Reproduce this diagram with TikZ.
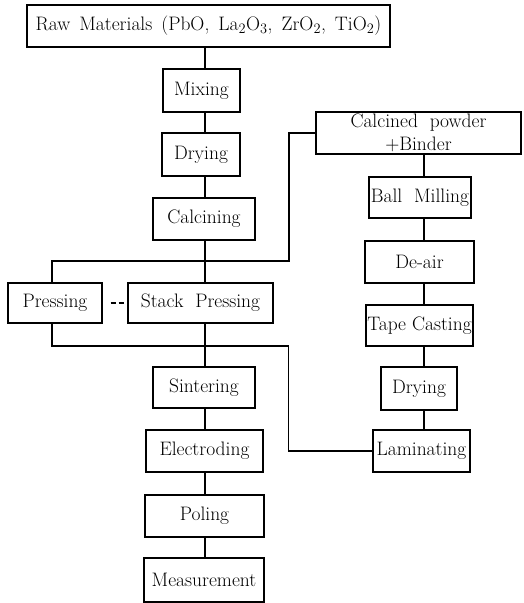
\documentclass[tikz,border=0pt]{standalone}
\usepackage{fontspec}
\begin{document}
\begin{tikzpicture}[x=1pt,y=-1pt,
  box/.style={draw, line width=1.2pt, inner sep=0pt, align=center,
    font=\fontsize{19.5}{23}\selectfont},
  conn/.style={line width=1.2pt}]
\useasboundingbox (0,0) rectangle (524,603);
% left / main column
\node[box, minimum width=363pt, minimum height=42pt] (raw) at (208.5,26)
  {Raw\hspace{9pt}Materials\hspace{9pt}(PbO,\hspace{9pt}La$_2$O$_3$,\hspace{9pt}ZrO$_2$,\hspace{9pt}TiO$_2$)};
\node[box, minimum width=77pt, minimum height=43pt] (mix) at (201.5,90.5) {Mixing};
\node[box, minimum width=78pt, minimum height=43pt] (dryA) at (201,154.5) {Drying};
\node[box, minimum width=102pt, minimum height=42pt] (calc) at (204,219) {Calcining};
\node[box, minimum width=94pt, minimum height=40pt] (press) at (55,303) {Pressing};
\node[box, minimum width=145pt, minimum height=40pt] (stack) at (200.5,303) {Stack~ Pressing};
\node[box, minimum width=102pt, minimum height=41pt] (sint) at (204,387.5) {Sintering};
\node[box, minimum width=117pt, minimum height=42pt] (elec) at (204.5,451) {Electroding};
\node[box, minimum width=119pt, minimum height=42pt] (pol) at (204.5,516) {Poling};
\node[box, minimum width=120pt, minimum height=44pt] (meas) at (204,580) {Measurement};
% right column
\node[box, minimum width=205pt, minimum height=42pt] (cp) at (418.5,133)
  {Calcined~ powder\\+Binder};
\node[box, minimum width=102pt, minimum height=41pt] (ball) at (420,197.5) {Ball~ Milling};
\node[box, minimum width=109pt, minimum height=42pt] (deair) at (419.5,262) {De-air};
\node[box, minimum width=107pt, minimum height=41pt] (tape) at (419.5,325.5) {Tape Casting};
\node[box, minimum width=76pt, minimum height=43pt] (dryB) at (419,388.5) {Drying};
\node[box, minimum width=97pt, minimum height=42pt] (lam) at (421.5,451) {Laminating};
% helper coordinates
\coordinate (mc) at (205,0);
\coordinate (rc) at (424,0);
\coordinate (pl) at (52,0);
\coordinate (ja) at (289,261);
\coordinate (jb) at (288.5,346);
% main column connectors
\draw[conn] (mc |- raw.south) -- (mc |- mix.north);
\draw[conn] (mc |- mix.south) -- (mc |- dryA.north);
\draw[conn] (mc |- dryA.south) -- (mc |- calc.north);
\draw[conn] (mc |- calc.south) -- (mc |- stack.north);
\draw[conn] (mc |- stack.south) -- (mc |- sint.north);
\draw[conn] (mc |- sint.south) -- (mc |- elec.north);
\draw[conn] (mc |- elec.south) -- (mc |- pol.north);
\draw[conn] (mc |- pol.south) -- (mc |- meas.north);
% branches
\draw[conn] (pl |- press.north) |- (ja) |- (cp.west);
\draw[conn] (pl |- press.south) |- (jb) |- (lam.west);
\draw[conn, dash pattern=on 0pt off 8pt on 5pt off 3pt on 5pt off 10pt] (press.east) -- (stack.west);
% right column connectors
\draw[conn] (rc |- cp.south) -- (rc |- ball.north);
\draw[conn] (rc |- ball.south) -- (rc |- deair.north);
\draw[conn] (rc |- deair.south) -- (rc |- tape.north);
\draw[conn] (rc |- tape.south) -- (rc |- dryB.north);
\draw[conn] (rc |- dryB.south) -- (rc |- lam.north);
\end{tikzpicture}
\end{document}
